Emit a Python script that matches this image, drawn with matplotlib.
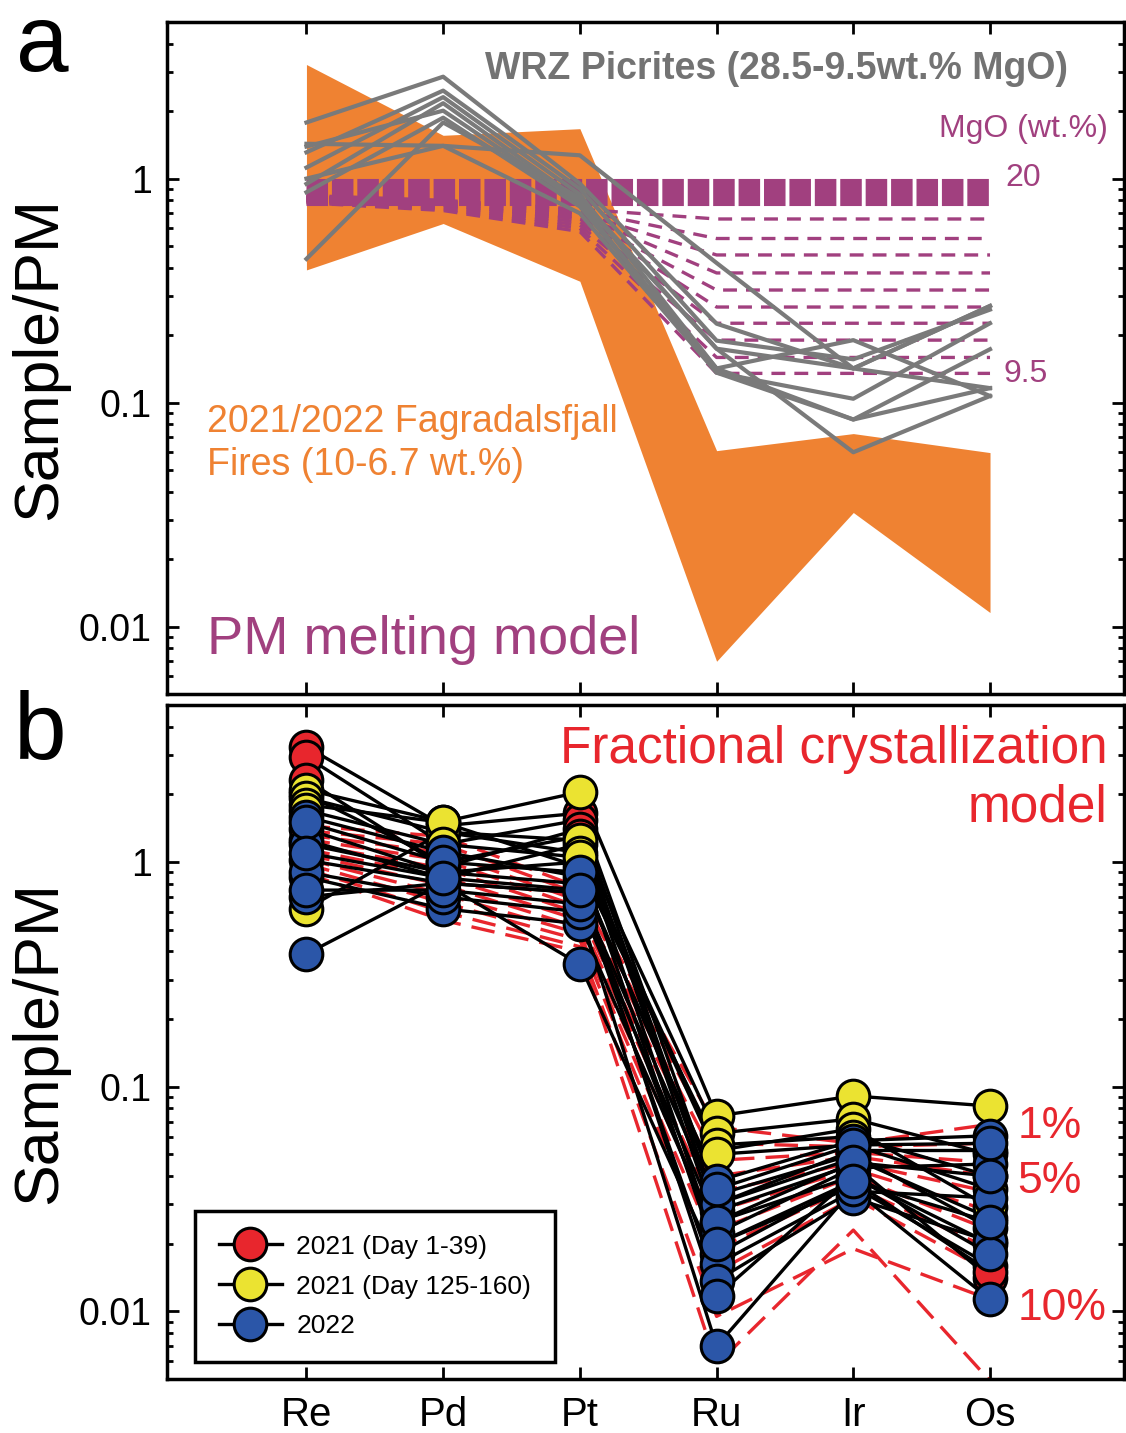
import numpy as np
import matplotlib
matplotlib.use("Agg")
import matplotlib.pyplot as plt
from matplotlib import font_manager
from matplotlib.lines import Line2D
from matplotlib.ticker import FixedLocator, FixedFormatter, LogLocator, NullFormatter

# ---------------- data ----------------
elements = ["Re", "Pd", "Pt", "Ru", "Ir", "Os"]
yticks = [0.01, 0.1, 1]
ytick_labels = ["0.01", "0.1", "1"]

# Panel a: Fagradalsfjall range (orange envelope)
fagra_upper = [3.23, 1.56, 1.67, 0.061, 0.0727, 0.0598]
fagra_lower = [0.391, 0.63, 0.348, 0.0070, 0.0323, 0.01155]

# Panel a: WRZ picrites (gray lines)
wrz_1 = [1.43, 1.40, 1.27, 0.42, 0.142, 0.116]
wrz_2 = [1.78, 2.85, 0.95, 0.225, 0.142, 0.27]
wrz_3 = [1.31, 2.47, 0.90, 0.189, 0.156, 0.26]
wrz_4 = [1.12, 2.31, 0.85, 0.142, 0.19, 0.107]
wrz_5 = [0.947, 2.17, 0.80, 0.174, 0.142, 0.27]
wrz_6 = [1.39, 2.01, 0.78, 0.136, 0.104, 0.226]
wrz_7 = [0.869, 1.87, 0.75, 0.142, 0.084, 0.173]
wrz_8 = [0.438, 1.78, 0.82, 0.174, 0.060, 0.107]
wrz_9 = [1.00, 1.40, 0.70, 0.136, 0.084, 0.116]

# Panel a: PM melting model (MgO 20 -> 9.5 wt.%)
pm_20 = [0.87, 0.87, 0.87, 0.87, 0.87, 0.87]
pm_re = [0.84, 0.83, 0.83, 0.82, 0.82, 0.81, 0.80, 0.80, 0.79, 0.78]
pm_pd = [0.80, 0.79, 0.78, 0.77, 0.76, 0.76, 0.75, 0.74, 0.73, 0.72]
pm_pt = [0.73, 0.72, 0.70, 0.69, 0.67, 0.66, 0.64, 0.62, 0.60, 0.58]
pm_ru = [0.66, 0.54, 0.456, 0.379, 0.318, 0.267, 0.226, 0.19, 0.159, 0.135]
pm_ir = [0.66, 0.54, 0.456, 0.379, 0.318, 0.267, 0.226, 0.19, 0.159, 0.135]
pm_os = [0.66, 0.54, 0.456, 0.379, 0.318, 0.267, 0.226, 0.19, 0.159, 0.135]

# Panel b: fractional crystallization model (1% ... 10% +)
fc_re = [1.45, 1.38, 1.32, 1.26, 1.20, 1.14, 1.08, 1.03, 0.98, 0.93, 0.89]
fc_pd = [1.30, 1.20, 1.10, 1.02, 0.94, 0.86, 0.79, 0.72, 0.66, 0.60, 0.55]
fc_pt = [0.77, 0.72, 0.67, 0.63, 0.59, 0.55, 0.51, 0.48, 0.45, 0.42, 0.40]
fc_ru = [0.066, 0.056, 0.047, 0.040, 0.034, 0.028, 0.023, 0.019, 0.015, 0.0095, 0.0058]
fc_ir = [0.056, 0.054, 0.051, 0.049, 0.046, 0.043, 0.040, 0.036, 0.032, 0.019, 0.023]
fc_os = [0.068, 0.056, 0.046, 0.040, 0.034, 0.028, 0.023, 0.019, 0.015, 0.0113, 0.0049]

# Panel b: samples, 2021 (Day 1-39)
red_samples = [
    [3.26, 1.45, 1.65, 0.033, 0.050, 0.0235],
    [2.94, 1.20, 1.54, 0.028, 0.045, 0.0141],
    [2.32, 0.95, 1.40, 0.025, 0.040, 0.020],
    [1.25, 0.85, 1.20, 0.020, 0.036, 0.016],
    [2.00, 1.00, 1.30, 0.030, 0.048, 0.026],
    [1.40, 0.90, 1.00, 0.018, 0.038, 0.015],
]
# 2021 (Day 125-160)
yellow_samples = [
    [2.10, 1.51, 2.05, 0.074, 0.091, 0.082],
    [1.93, 1.36, 1.25, 0.062, 0.072, 0.050],
    [0.62, 1.36, 1.10, 0.052, 0.065, 0.029],
    [1.80, 1.50, 0.95, 0.055, 0.060, 0.040],
    [1.70, 1.20, 1.05, 0.050, 0.055, 0.035],
]
# 2022
blue_samples = [
    [1.59, 1.11, 0.86, 0.038, 0.0575, 0.0605],
    [1.02, 0.806, 0.73, 0.030, 0.052, 0.052],
    [0.857, 0.62, 0.53, 0.0223, 0.0435, 0.0453],
    [0.70, 0.806, 0.35, 0.0162, 0.0343, 0.032],
    [0.39, 0.806, 0.73, 0.0137, 0.032, 0.0205],
    [1.20, 0.90, 0.80, 0.0117, 0.040, 0.018],
    [0.90, 0.70, 0.60, 0.0070, 0.035, 0.0113],
    [1.50, 1.00, 0.90, 0.035, 0.055, 0.056],
    [0.75, 0.75, 0.65, 0.025, 0.046, 0.040],
    [1.10, 0.85, 0.75, 0.020, 0.038, 0.025],
]
legend_labels = ["2021 (Day 1-39)", "2021 (Day 125-160)", "2022"]

# ---------------- style ----------------
ORANGE = "#EF8232"
GRAY = "#7A7A7A"
TITLE_GRAY = "#737373"
MAGENTA = "#A1407F"
RED = "#E8262D"
YELLOW = "#EBE331"
BLUE = "#2B56A8"

plt.rcParams["font.family"] = ["Liberation Sans", "DejaVu Sans"]
names = {f.name for f in font_manager.fontManager.ttflist}
narrow = "Liberation Sans Narrow" if "Liberation Sans Narrow" in names else None

W, H = 1126, 1433
fig = plt.figure(figsize=(W / 100, H / 100), dpi=100)

def px_axes(left, top, right, bottom):
    return fig.add_axes([left / W, 1 - bottom / H, (right - left) / W, (bottom - top) / H])

ax1 = px_axes(167, 22, 1124, 694)
ax2 = px_axes(167, 705, 1124, 1379)

x = np.arange(len(elements))

for ax in (ax1, ax2):
    ax.set_yscale("log")
    ax.set_ylim(0.005, 5.0)
    ax.set_xlim(-1.02, 5.98)
    ax.yaxis.set_major_locator(FixedLocator(yticks))
    ax.yaxis.set_major_formatter(FixedFormatter(ytick_labels))
    ax.yaxis.set_minor_locator(LogLocator(base=10, subs=np.arange(2, 10)))
    ax.yaxis.set_minor_formatter(NullFormatter())
    ax.set_xticks(x)
    ax.tick_params(which="both", direction="in", top=True, right=True,
                   bottom=True, left=True, width=2.0, labelsize=27, pad=11)
    ax.tick_params(which="major", length=8.5)
    ax.tick_params(which="minor", length=4.5)
    for s in ax.spines.values():
        s.set_linewidth(2.5)

ax1.set_xticklabels([])
ax2.set_xticklabels(elements, fontsize=29)
ax2.tick_params(axis="x", pad=12)

# ---------------- panel a ----------------
ax1.fill_between(x, fagra_lower, fagra_upper, color=ORANGE, lw=0, zorder=1)

thick_lw = 19.5
ax1.plot(x, pm_20, color=MAGENTA, lw=thick_lw,
         linestyle=(0, (15.5 / thick_lw, 2.8 / thick_lw)), dash_capstyle="butt", zorder=3)
thin_lw = 2.4
for i in range(len(pm_ru)):
    vals = [pm_re[i], pm_pd[i], pm_pt[i], pm_ru[i], pm_ir[i], pm_os[i]]
    ax1.plot(x, vals, color=MAGENTA, lw=thin_lw,
             linestyle=(0, (10 / thin_lw, 6.5 / thin_lw)), zorder=2.5)

for line in (wrz_1, wrz_2, wrz_3, wrz_4, wrz_5, wrz_6, wrz_7, wrz_8, wrz_9):
    ax1.plot(x, line, color=GRAY, lw=3.0, zorder=4)

if narrow:
    ax1.text(3.44, 3.1, "WRZ Picrites (28.5-9.5wt.% MgO)", family=[narrow, "DejaVu Sans"],
             fontweight="bold", fontsize=32, color=TITLE_GRAY, ha="center", va="center")
else:
    ax1.text(3.44, 3.1, "WRZ Picrites (28.5-9.5wt.% MgO)", fontweight="bold",
             fontsize=27, color=TITLE_GRAY, ha="center", va="center")
ax1.text(5.86, 1.67, "MgO (wt.%)", fontsize=23, color=MAGENTA, ha="right", va="center")
ax1.text(5.11, 1.01, "20", fontsize=23, color=MAGENTA, ha="left", va="center")
ax1.text(5.095, 0.134, "9.5", fontsize=23, color=MAGENTA, ha="left", va="center")
ax1.text(-0.724, 0.0655, "2021/2022 Fagradalsfjall\nFires (10-6.7 wt.%)", fontsize=27,
         color=ORANGE, ha="left", va="center", linespacing=1.25)
ax1.text(-0.724, 0.00868, "PM melting model", fontsize=39, color=MAGENTA,
         ha="left", va="center")

# ---------------- panel b ----------------
red_lw = 2.4
for i in range(len(fc_re)):
    vals = [fc_re[i], fc_pd[i], fc_pt[i], fc_ru[i], fc_ir[i], fc_os[i]]
    ax2.plot(x, vals, color=RED, lw=red_lw,
             linestyle=(0, (17 / red_lw, 8 / red_lw)), zorder=2)

groups = [(red_samples, RED), (yellow_samples, YELLOW), (blue_samples, BLUE)]
for samples, c in groups:
    for s in samples:
        ax2.plot(x, s, color="k", lw=2.4, zorder=3)
z = 4
for samples, c in groups:
    for s in samples:
        ax2.plot(x, s, linestyle="none", marker="o", ms=23.5, mfc=c, mec="k",
                 mew=2.2, zorder=z)
    z += 1

ax2.text(5.86, 3.16, "Fractional crystallization", fontsize=37, color=RED,
         ha="right", va="center")
ax2.text(5.86, 1.74, "model", fontsize=37, color=RED, ha="right", va="center")
ax2.text(5.2, 0.0668, "1%", fontsize=32, color=RED, ha="left", va="center")
ax2.text(5.2, 0.0380, "5%", fontsize=32, color=RED, ha="left", va="center")
ax2.text(5.2, 0.0103, "10%", fontsize=32, color=RED, ha="left", va="center")

handles = [Line2D([0], [0], color="k", lw=2.4, marker="o", ms=23.5, mfc=c, mec="k", mew=2.2)
           for c in (RED, YELLOW, BLUE)]
leg = ax2.legend(handles, legend_labels, loc="lower left",
                 bbox_to_anchor=(0.029, 0.025), borderaxespad=0, fontsize=19,
                 frameon=True, fancybox=False, framealpha=1, edgecolor="k",
                 handlelength=2.4, handletextpad=0.55, labelspacing=0.6,
                 borderpad=0.9)
leg.get_frame().set_linewidth(2.5)
leg.set_zorder(10)

# ---------------- labels ----------------
fig.text(40 / W, 1 - 358 / H, "Sample/PM", rotation=90, fontsize=45,
         ha="center", va="center")
fig.text(40 / W, 1 - 1042 / H, "Sample/PM", rotation=90, fontsize=45,
         ha="center", va="center")
fig.text(42 / W, 1 - 2 / H, "a", fontsize=68, ha="center", va="top")
fig.text(40 / W, 1 - 735 / H, "b", fontsize=68, ha="center", va="center")

fig.savefig("out.png", dpi=100)
